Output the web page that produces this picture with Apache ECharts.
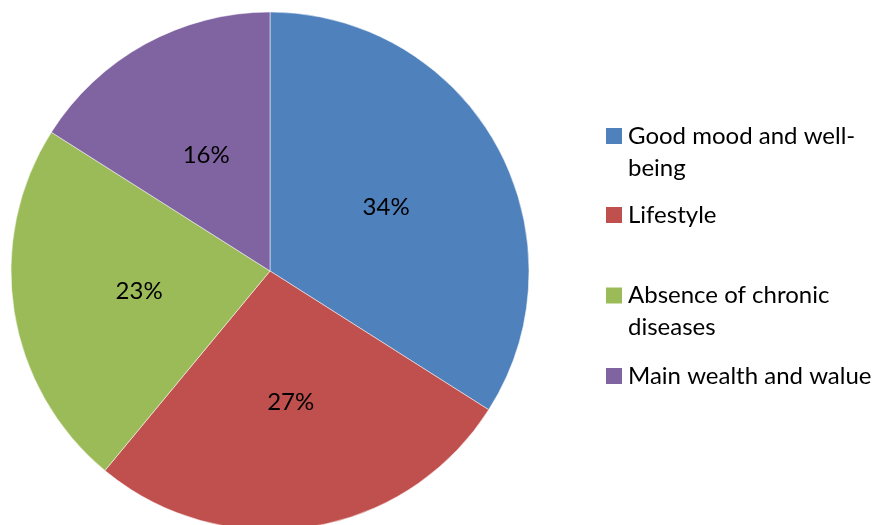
<!DOCTYPE html>
<html>
<head>
<meta charset="utf-8">
<script src="https://cdn.jsdelivr.net/npm/echarts@6/dist/echarts.min.js"></script>
<style>
html,body{margin:0;padding:0;background:#fff;}
#chart{width:881px;height:525px;}
</style>
</head>
<body>
<div id="chart"></div>
<script>
const categories = ["Good mood and well-\nbeing", "Lifestyle", "Absence of chronic\ndiseases", "Main wealth and walue"];
const values = [34, 27, 23, 16];
const colors = ["#4F81BD", "#C0504D", "#9BBB59", "#8064A2"];
const iconCenters = [136, 215, 295.5, 376];

const FONT = "Lato";
const FS = 24;
const LH = 32;

const chart = echarts.init(document.getElementById('chart'));

const legends = categories.map((name, i) => {
  const lines = name.split("\n").length;
  const boxLines = 2 * lines - 1;
  const boxH = LH * boxLines;
  return {
    orient: 'vertical',
    left: 604,
    top: iconCenters[i] - boxH / 2,
    padding: 0,
    itemWidth: 18,
    itemHeight: 18,
    icon: 'rect',
    selectedMode: false,
    data: [name],
    formatter: n => (lines > 1 ? "\n".repeat(lines - 1) : "") + n,
    textStyle: {
      fontFamily: FONT,
      fontSize: FS,
      color: '#000',
      lineHeight: LH,
      padding: [0, 0, 0, 0]
    }
  };
});

chart.setOption({
  animation: false,
  color: colors,
  legend: legends,
  series: [{
    type: 'pie',
    center: [270, 271],
    radius: 259,
    startAngle: 90,
    clockwise: true,
    data: categories.map((c, i) => ({ name: c, value: values[i] })),
    label: {
      show: true,
      position: 'inside',
      formatter: p => Math.round(p.percent) + '%',
      fontFamily: FONT,
      fontSize: FS,
      color: '#000',
      padding: [7, 0, 0, 0]
    },
    labelLine: { show: false },
    itemStyle: { borderColor: '#fff', borderWidth: 0.5 },
    emphasis: { disabled: true }
  }]
});
</script>
</body>
</html>
